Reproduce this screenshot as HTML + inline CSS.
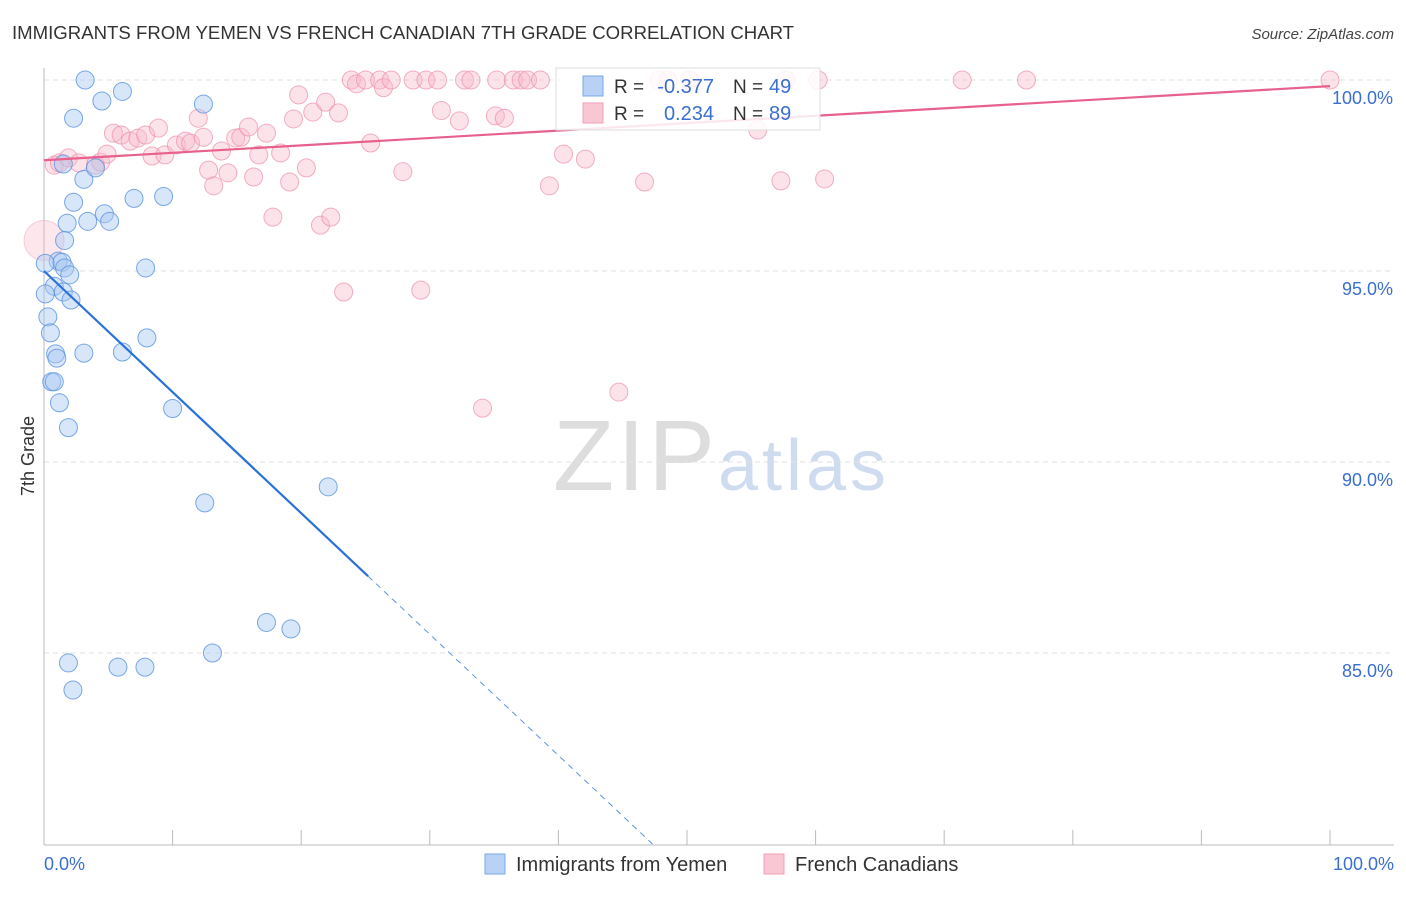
<!DOCTYPE html>
<html><head><meta charset="utf-8"><style>
body{margin:0;background:#fff;font-family:"Liberation Sans",sans-serif;}
svg text{font-family:"Liberation Sans",sans-serif;}
</style></head><body>
<svg id="chart" width="1406" height="892" xmlns="http://www.w3.org/2000/svg">
<text x="12" y="39" font-size="18.6" fill="#333">IMMIGRANTS FROM YEMEN VS FRENCH CANADIAN 7TH GRADE CORRELATION CHART</text>
<text x="1394" y="39" font-size="15" fill="#444" text-anchor="end" font-style="italic">Source: ZipAtlas.com</text>
<text transform="translate(34,456) rotate(-90)" font-size="18" fill="#333" text-anchor="middle">7th Grade</text>
<text x="553" y="490" font-size="100" fill="#ddd" font-family="Liberation Serif" textLength="162">ZIP</text>
<text x="718" y="490" font-size="72" fill="#cfdcf0" textLength="168">atlas</text>
<g id="grid"></g><g id="marks"></g>
<g>
<rect x="556" y="68" width="264" height="62" fill="#fff" fill-opacity="0.85" stroke="#ddd"/>
<rect x="583" y="76" width="20" height="20" fill="#b8d1f5" stroke="#7aa7e6"/>
<rect x="583" y="103" width="20" height="20" fill="#f9c6d4" stroke="#f0a0b8"/>
<text x="614" y="93" font-size="19" fill="#333">R =</text>
<text x="714" y="93" font-size="20" fill="#3a6fd0" text-anchor="end">-0.377</text>
<text x="733" y="93" font-size="19" fill="#333">N =</text>
<text x="769" y="93" font-size="20" fill="#3a6fd0">49</text>
<text x="614" y="120" font-size="19" fill="#333">R =</text>
<text x="714" y="120" font-size="20" fill="#3a6fd0" text-anchor="end">0.234</text>
<text x="733" y="120" font-size="19" fill="#333">N =</text>
<text x="769" y="120" font-size="20" fill="#3a6fd0">89</text>
</g>
<g>
<rect x="485" y="854" width="20" height="20" fill="#b8d1f5" stroke="#7aa7e6"/>
<text x="516" y="871" font-size="20" fill="#333">Immigrants from Yemen</text>
<rect x="764" y="854" width="20" height="20" fill="#f9c6d4" stroke="#f0a0b8"/>
<text x="795" y="871" font-size="20" fill="#333">French Canadians</text>
</g>
</svg>
<script>
const xTicks=[0,10,20,30,40,50,60,70,80,90,100];
const yTicks=[100,95,90,85];
const yTickLabels=["100.0%","95.0%","90.0%","85.0%"];
const blueX=[3.2,6.1,4.5,12.4,2.3,1.5,3.1,4.0,7.0,9.3,2.3,4.7,5.1,3.4,1.8,1.6,1.1,0.1,1.4,1.6,2.0,7.9,0.8,1.5,2.1,0.1,0.3,0.5,8.0,0.9,1.0,3.1,6.1,0.6,0.8,1.2,1.9,10.0,22.1,12.5,17.3,19.2,1.9,5.75,7.85,13.1,2.25];
const blueY=[100,99.7,99.45,99.37,99.0,97.8,97.4,97.7,96.9,96.95,96.8,96.5,96.3,96.3,96.25,95.8,95.26,95.2,95.23,95.08,94.9,95.08,94.6,94.45,94.24,94.4,93.8,93.38,93.25,92.83,92.72,92.85,92.88,92.1,92.1,91.55,90.9,91.4,89.35,88.93,85.8,85.63,84.74,84.63,84.63,85.0,84.03];
const pinkX=[0.8,1.2,1.9,2.7,4.0,4.4,4.9,5.4,6.0,6.7,7.3,7.9,8.4,8.9,9.4,10.3,11.0,11.4,12.0,12.4,12.8,13.2,13.8,14.3,14.9,15.3,15.9,16.3,16.7,17.3,17.8,18.4,19.1,19.4,19.8,20.4,20.9,21.5,21.9,22.3,22.9,23.3,23.9,24.3,25.0,25.4,26.1,26.4,27.0,27.9,28.7,29.3,29.7,30.6,30.9,32.3,32.7,33.2,34.1,35.1,35.2,35.8,36.5,37.1,37.6,38.6,39.3,40.4,42.1,44.7,46.7,47.8,48.5,50.2,55.5,57.3,57.7,60.2,60.7,71.4,76.4,100];
const pinkY=[97.77,97.83,97.96,97.83,97.77,97.85,98.06,98.61,98.56,98.4,98.48,98.56,98.01,98.74,98.04,98.3,98.4,98.35,99.0,98.5,97.64,97.23,98.14,97.57,98.48,98.5,98.77,97.46,98.04,98.61,96.41,98.09,97.33,98.98,99.61,97.7,99.16,96.2,99.42,96.41,99.14,94.45,100,99.9,100,98.35,100,99.8,100,97.6,100,94.5,100,100,99.2,98.93,100,100,91.41,99.06,100,99.0,100,100,100,100,97.23,98.06,97.93,91.83,97.33,100,100,100,98.69,97.36,100,100,97.41,100,100,100];
const pinkTrend=[97.9,99.84];
const blueTrend=[95.0,-0.317];
const NS="http://www.w3.org/2000/svg";
const X=v=>44+v*12.86, Y=v=>80+(100-v)*38.2;
function mk(t,a,p){const e=document.createElementNS(NS,t);for(const k in a)e.setAttribute(k,a[k]);p.appendChild(e);return e;}
const grid=document.getElementById('grid'), marks=document.getElementById('marks');
yTicks.forEach((v,i)=>{
 const l=mk('line',{x1:44,x2:1394,y1:Y(v),y2:Y(v),stroke:'#e2e2e2','stroke-dasharray':'5,4'},grid);
 
 
 const t=mk('text',{x:1393,y:Y(v)+24,'font-size':18,fill:'#3a6fd0','text-anchor':'end'},grid);t.textContent=yTickLabels[i];
 
 
});
mk('line',{x1:44,x2:44,y1:68,y2:845,stroke:'#bbb'},grid);
mk('line',{x1:44,x2:1394,y1:845,y2:845,stroke:'#bbb'},grid);
xTicks.forEach(v=>{const l=mk('line',{x1:X(v),x2:X(v),y1:830,y2:845,stroke:'#bbb'},grid);
 
 });
[[0,'start',44,'0.0%'],[100,'end',1394,'100.0%']].forEach(d=>{const t=mk('text',{x:d[2],y:870,'font-size':18,fill:'#3a6fd0','text-anchor':d[1]},grid);t.textContent=d[3];
 
 });
const big=mk('circle',{cx:X(0),cy:Y(95.8),r:20,fill:'#f7b9cb','fill-opacity':0.35,stroke:'#f0a0b8','stroke-opacity':0.5},marks);


pinkX.forEach((x,i)=>{const c=mk('circle',{cx:X(x),cy:Y(pinkY[i]),r:9,fill:'#f7b9cb','fill-opacity':0.4,stroke:'#ec8fac','stroke-opacity':0.7},marks);
 
 });
blueX.forEach((x,i)=>{const c=mk('circle',{cx:X(x),cy:Y(blueY[i]),r:9,fill:'#a9c8f2','fill-opacity':0.45,stroke:'#5a93e0','stroke-opacity':0.8},marks);
 
 });
const pl=mk('line',{x1:X(0),y1:Y(pinkTrend[0]),x2:X(100),y2:Y(pinkTrend[1]),stroke:'#e8608c','stroke-width':2.2},marks);


const bEnd=25.2, bZero=(blueTrend[0]-80)/(-blueTrend[1]);
const bl=mk('line',{x1:X(0),y1:Y(blueTrend[0]),x2:X(bEnd),y2:Y(blueTrend[0]+blueTrend[1]*bEnd),stroke:'#2a72d8','stroke-width':2.2},marks);


const bd=mk('line',{x1:X(bEnd),y1:Y(blueTrend[0]+blueTrend[1]*bEnd),x2:X(bZero),y2:Y(80),stroke:'#5a93e0','stroke-width':1,'stroke-dasharray':'6,5'},marks);


</script>
</body></html>
